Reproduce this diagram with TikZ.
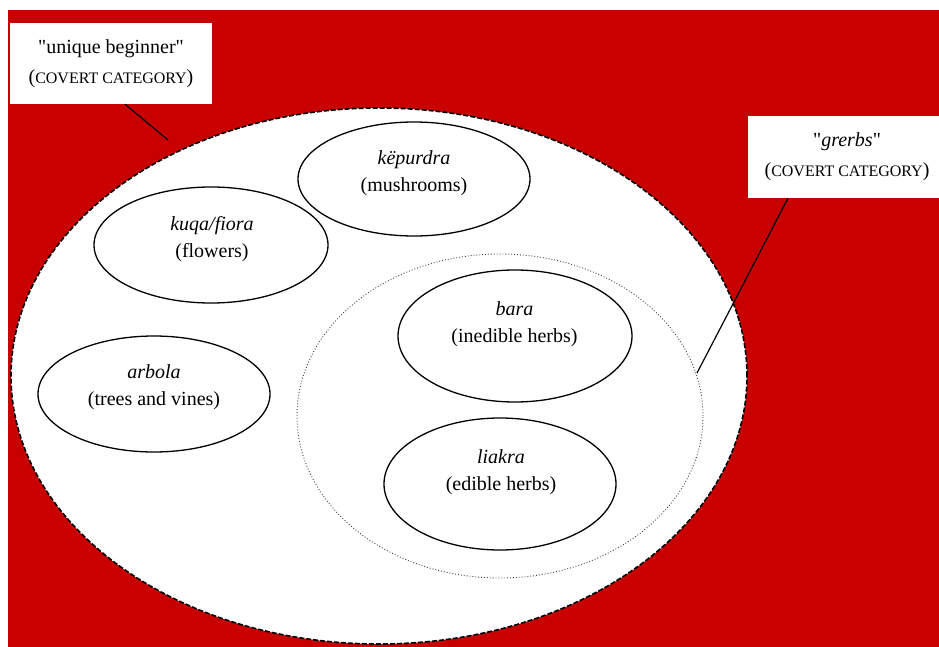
\documentclass[tikz,border=0pt]{standalone}
\usepackage{fontspec}
\setmainfont{Liberation Serif}
\usetikzlibrary{shapes.geometric}
\definecolor{bgred}{RGB}{200,0,0}
\begin{document}
\begin{tikzpicture}[x=1pt,y=-1pt,
  cat/.style={draw=black, line width=1.3pt, ellipse, inner sep=0pt},
  catlabel/.style={align=center, font=\fontsize{20}{27}\selectfont, inner sep=0pt},
  notebox/.style={fill=white, inner sep=0pt, align=center, font=\fontsize{20}{30}\selectfont},
  lead/.style={draw=black, line width=1.2pt}]
\newcommand{\smcaps}[1]{{\fontsize{16}{30}\selectfont #1}}
\useasboundingbox (0,0) rectangle (939,647);
\fill[white] (0,0) rectangle (939,647);
\fill[bgred] (8,10) rectangle (939,647);
% unique beginner
\node[ellipse, fill=white, draw=black, dashed, dash pattern=on 5pt off 2pt, line width=1.6pt,
      minimum width=736pt, minimum height=536pt, inner sep=0pt] (ub) at (379,376) {};
% grerbs
\node[ellipse, draw=black!75, dotted, line width=0.9pt,
      minimum width=406pt, minimum height=324pt, inner sep=0pt] (gr) at (500,416) {};
% categories
\node[cat, minimum width=232pt, minimum height=114pt] (kep) at (414,179) {};
\node[cat, minimum width=234pt, minimum height=116pt] (kuq) at (211,245) {};
\node[cat, minimum width=232pt, minimum height=116pt] (arb) at (154,394) {};
\node[cat, minimum width=234pt, minimum height=132pt] (bar) at (515,336) {};
\node[cat, minimum width=232pt, minimum height=132pt] (lia) at (500,484) {};
\node[catlabel] (kepT) at (414,173.5) {\textit{këpurdra}\\(mushrooms)};
\node[catlabel] (kuqT) at (212,239.5) {\textit{kuqa/fiora}\\(flowers)};
\node[catlabel] (arbT) at (154,387.5) {\textit{arbola}\\(trees and vines)};
\node[catlabel] (barT) at (514.5,324.5) {\textit{bara}\\(inedible herbs)};
\node[catlabel] (liaT) at (501,472.5) {\textit{liakra}\\(edible herbs)};
% note boxes
\node[notebox, minimum width=202pt, minimum height=81pt] (ubbox) at (111,63.5)
  {\textquotedbl unique beginner\textquotedbl\\(\smcaps{COVERT CATEGORY})};
\node[notebox, minimum width=198pt, minimum height=82pt] (grbox) at (847,157)
  {\textquotedbl\textit{grerbs}\textquotedbl\\(\smcaps{COVERT CATEGORY})};
\coordinate (ubend) at (168,140);
\coordinate (grend) at (697,373);
\draw[lead] ([xshift=14pt]ubbox.south) -- (ubend);
\draw[lead] ([xshift=-59pt]grbox.south) -- (grend);
\end{tikzpicture}
\end{document}
